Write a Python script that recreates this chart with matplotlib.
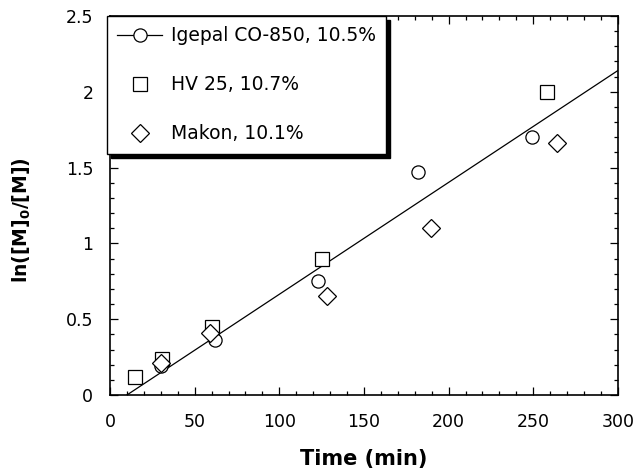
import numpy as np
import matplotlib.pyplot as plt
from matplotlib.ticker import MultipleLocator

# data
igepal_t = [30, 62, 123, 182, 249]
igepal_y = [0.19, 0.36, 0.75, 1.47, 1.70]
hv25_t = [15, 30.5, 60, 125.5, 258]
hv25_y = [0.12, 0.24, 0.45, 0.90, 2.00]
makon_t = [30, 59, 128, 189.5, 264]
makon_y = [0.21, 0.41, 0.65, 1.10, 1.66]
# linear fit shown in the plot
fit_slope = 0.00738
fit_intercept = -0.0738
fit_t = [10, 300]

plt.rcParams["font.family"] = ["DejaVu Sans"]

fig = plt.figure(figsize=(6.37, 4.70), dpi=100, facecolor="white")
ax = fig.add_axes([0.1727, 0.1596, 0.7973, 0.8064])

tt = np.array(fit_t, dtype=float)
ax.plot(tt, fit_slope * tt + fit_intercept, color="black", lw=0.9, zorder=2)

mk = dict(ls="none", mfc="white", mec="black", mew=0.9, zorder=3)
ax.plot(igepal_t, igepal_y, marker="o", ms=9.5, **mk)
ax.plot(hv25_t, hv25_y, marker="s", ms=9.5, **mk)
ax.plot(makon_t, makon_y, marker="D", ms=9.5, **mk)

# legend handles
h1, = ax.plot([], [], color="black", lw=0.9, marker="o", ms=9.5, mfc="white",
              mec="black", mew=0.9)
h2, = ax.plot([], [], marker="s", ms=9.5, **mk)
h3, = ax.plot([], [], marker="D", ms=9.5, **mk)
leg = ax.legend([h1, h2, h3],
                ["Igepal CO-850, 10.5%", "HV 25, 10.7%", "Makon, 10.1%"],
                loc="upper left", bbox_to_anchor=(-0.006, 1.0), borderaxespad=0,
                fontsize=13.5, frameon=True, fancybox=False,
                shadow={"color": "black", "alpha": 1, "ox": 3, "oy": -3},
                labelspacing=1.6, handlelength=2.4, handletextpad=0.45,
                borderpad=0.55)
leg.get_frame().set_edgecolor("black")
leg.get_frame().set_linewidth(1.0)
leg.set_zorder(5)

ax.set_xlim(0, 300)
ax.set_ylim(0, 2.5)
ax.xaxis.set_major_locator(MultipleLocator(50))
ax.xaxis.set_minor_locator(MultipleLocator(10))
ax.yaxis.set_minor_locator(MultipleLocator(0.1))
ax.set_yticks([0, 0.5, 1, 1.5, 2, 2.5])
ax.set_yticklabels(["0", "0.5", "1", "1.5", "2", "2.5"])
ax.tick_params(which="both", direction="in", top=True, right=True,
               labelsize=12.5, width=0.9)
ax.tick_params(which="major", length=6)
ax.tick_params(which="minor", length=3)
ax.tick_params(axis="x", which="major", pad=13)
ax.tick_params(axis="y", which="major", pad=12)
for s in ax.spines.values():
    s.set_linewidth(1.2)

ax.set_xlabel("Time (min)", fontsize=15, fontweight="bold")
ax.set_ylabel(r"ln([M]$_\mathbf{0}$/[M])", fontsize=13.5, fontweight="bold")
ax.xaxis.set_label_coords(0.5, -0.143)
ax.yaxis.set_label_coords(-0.152, 0.46)

plt.savefig("out.png", dpi=100, facecolor="white")
